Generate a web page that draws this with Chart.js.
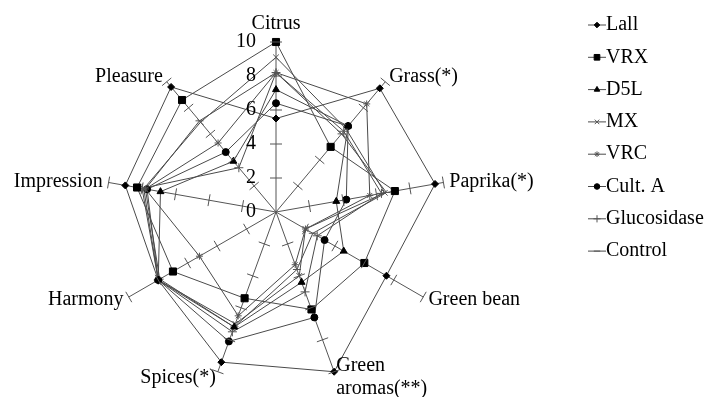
<!DOCTYPE html>
<html>
<head>
<meta charset="utf-8">
<script src="https://cdn.jsdelivr.net/npm/chart.js@4/dist/chart.umd.min.js"></script>
<style>
	html, body { margin: 0; padding: 0; background: #fff; }
	#wrap { width: 710px; height: 397px; }
	.fontprobe { font-family: "Liberation Serif"; position: absolute; left: -999px; }
</style>
</head>
<body>
<div id="wrap"><canvas id="chartRadar" width="710" height="397"></canvas></div>
<span class="fontprobe">Citrus</span>
<script>
var attributes = ['Citrus', 'Grass(*)', 'Paprika(*)', 'Green bean', ['Green', 'aromas(**)'], 'Spices(*)', 'Harmony', 'Impression', 'Pleasure'];
var tickValues = [0, 2, 4, 6, 8, 10];

var lall        = [5.5, 9.5, 9.5, 7.5, 10.0, 9.4, 8.0, 9.0, 9.6];
var vrx         = [10.0, 5.0, 7.1, 6.0, 6.1, 5.4, 7.0, 8.3, 8.6];
var d5l         = [7.2, 6.6, 3.6, 4.6, 4.4, 7.2, 8.0, 6.9, 3.9];
var mx          = [9.1, 6.4, 6.5, 2.0, 4.0, 7.0, 8.0, 7.9, 6.9];
var vrc         = [8.2, 8.3, 5.6, 2.0, 3.3, 6.5, 5.2, 7.8, 5.3];
var cultA       = [6.4, 6.6, 4.2, 3.3, 6.6, 8.1, 8.0, 7.7, 4.6];
var glucosidase = [8.2, 6.2, 6.3, 2.8, 5.0, 7.5, 8.0, 8.0, 3.4];
var control     = [8.2, 6.0, 6.6, 2.5, 3.6, 7.2, 7.9, 7.8, 7.0];

var FONT = '20px "Liberation Serif", "Times New Roman", "DejaVu Serif", serif';
var LINE = '#4a4a4a';

function series(label, data, style, radius, fill) {
	return {
		label: label,
		data: data,
		borderColor: LINE,
		borderWidth: 1,
		fill: false,
		tension: 0,
		pointStyle: style,
		pointRadius: radius,
		pointHoverRadius: radius,
		pointBorderWidth: 1,
		pointBackgroundColor: fill,
		pointBorderColor: fill
	};
}

var decor = {
	id: 'decor',
	afterDraw: function (chart) {
		var ctx = chart.ctx;
		var scale = chart.scales.r;
		ctx.save();

		// small cross ticks on every spoke
		ctx.strokeStyle = '#555';
		ctx.lineWidth = 1;
		for (var i = 0; i < attributes.length; i++) {
			tickValues.forEach(function (v) {
				if (v === 0) return;
				var p = scale.getPointPositionForValue(i, v);
				var a = p.angle + Math.PI / 2;
				var dx = Math.cos(a) * 6, dy = Math.sin(a) * 6;
				ctx.beginPath();
				ctx.moveTo(p.x - dx, p.y - dy);
				ctx.lineTo(p.x + dx, p.y + dy);
				ctx.stroke();
			});
		}

		ctx.font = FONT;
		ctx.fillStyle = '#000';

		// tick labels left of the first spoke
		ctx.textAlign = 'right';
		ctx.textBaseline = 'middle';
		tickValues.forEach(function (v) {
			var p = scale.getPointPositionForValue(0, v);
			ctx.fillText(String(v), p.x - 20, p.y);
		});

		// attribute labels
		attributes.forEach(function (lbl, i) {
			var p = scale.getPointPosition(i, scale.drawingArea + 6);
			var c = Math.cos(p.angle);
			var lines = [].concat(lbl);
			var lh = 23;
			ctx.textAlign = Math.abs(c) < 0.05 ? 'center' : (c > 0 ? 'left' : 'right');
			var y0 = p.y - (lines.length - 1) * lh / 2;
			if (Math.abs(c) < 0.05 && Math.sin(p.angle) < 0) y0 = p.y - 12;
			lines.forEach(function (t, k) {
				ctx.fillText(t, p.x, y0 + k * lh);
			});
		});

		// legend
		var lx = 597, ly = 25, step = 32.3;
		chart.data.datasets.forEach(function (ds, k) {
			var y = ly + k * step;
			ctx.strokeStyle = ds.borderColor;
			ctx.lineWidth = 1;
			ctx.beginPath();
			ctx.moveTo(lx - 9, y);
			ctx.lineTo(lx + 9, y);
			ctx.stroke();
			ctx.fillStyle = ds.pointBackgroundColor;
			ctx.strokeStyle = ds.pointBorderColor;
			if (Chart.helpers && Chart.helpers.drawPoint) {
				Chart.helpers.drawPoint(ctx, {
					pointStyle: ds.pointStyle,
					radius: ds.pointRadius * 0.8,
					rotation: 0,
					borderWidth: 1
				}, lx, y);
			}
			ctx.fillStyle = '#000';
			ctx.textAlign = 'left';
			ctx.textBaseline = 'middle';
			ctx.fillText(ds.label, lx + 9, y);
		});

		ctx.restore();
	}
};

function build() {
	new Chart(document.getElementById('chartRadar'), {
		type: 'radar',
		data: {
			labels: attributes,
			datasets: [
				series('Lall', lall, 'rectRot', 3.5, '#000'),
				series('VRX', vrx, 'rect', 5, '#000'),
				series('D5L', d5l, 'triangle', 4, '#000'),
				series('MX', mx, 'crossRot', 4, '#555'),
				series('VRC', vrc, 'star', 3.5, '#555'),
				series('Cult. A', cultA, 'circle', 3.5, '#000'),
				series('Glucosidase', glucosidase, 'cross', 4.5, '#555'),
				series('Control', control, 'line', 4, '#555')
			]
		},
		options: {
			responsive: false,
			animation: false,
			events: [],
			plugins: {
				legend: { display: false },
				tooltip: { enabled: false }
			},
			scales: {
				r: {
					min: 0,
					max: 10,
					ticks: { display: false, stepSize: 2 },
					grid: { display: false },
					angleLines: { display: true, color: '#555', lineWidth: 1 },
					pointLabels: { display: false },
					afterFit: function (scale) {
						scale.xCenter = 276;
						scale.yCenter = 212;
						scale.drawingArea = 170;
					}
				}
			}
		},
		plugins: [decor]
	});
}

if (document.fonts && document.fonts.load) {
	document.fonts.load(FONT).then(build, build);
} else {
	build();
}
</script>
</body>
</html>
